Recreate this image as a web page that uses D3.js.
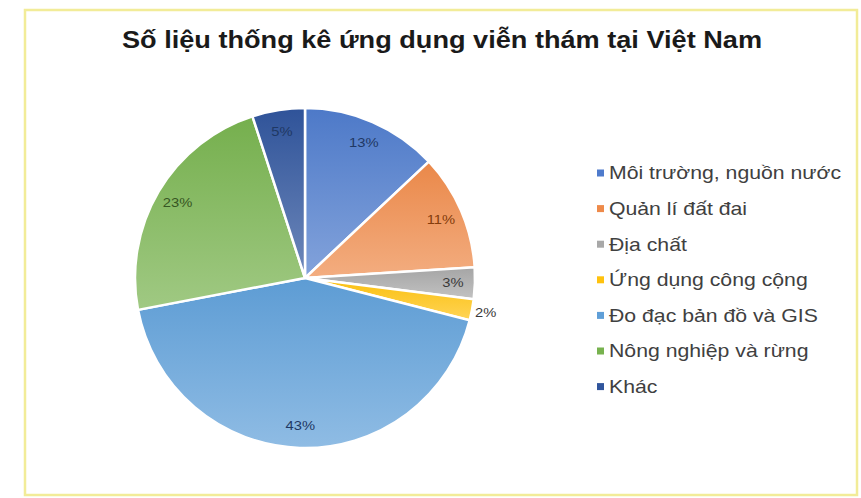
<!DOCTYPE html>
<html>
<head>
<meta charset="utf-8">
<script src="https://cdn.jsdelivr.net/npm/d3@7"></script>
<style>
  body { margin: 0; background: #fff; }
  svg { display: block; font-family: "Liberation Sans", Arial, sans-serif; }
</style>
</head>
<body>
<div id="chart"></div>
<script>
const width = 861,
  height = 498;

const categories = [
  "Môi trường, nguồn nước",
  "Quản lí đất đai",
  "Địa chất",
  "Ứng dụng công cộng",
  "Đo đạc bản đồ và GIS",
  "Nông nghiệp và rừng",
  "Khác"
];
const values = [13, 11, 3, 2, 43, 23, 5];
const colors = ["#4e7bcc", "#ee8a4a", "#a8a8a8", "#ffc20e", "#5f9fd8", "#77b24e", "#30559c"];
const labelColors = ["#1f3864", "#843c0c", "#3a3a3a", "#3a3a3a", "#1f3864", "#375623", "#1f3864"];
const title = "Số liệu thống kê ứng dụng viễn thám tại Việt Nam";

// the picture is stretched a bit wider than tall
const sx = 1.18;

const data = categories.map((c, i) => ({ name: c, value: values[i], i }));

const svg = d3.select("#chart")
  .append("svg")
  .attr("width", width)
  .attr("height", height);

// gradient per slice, darker on top, lighter below
const defs = svg.append("defs");
colors.forEach((c, i) => {
  const g = defs.append("linearGradient")
    .attr("id", "grad" + i)
    .attr("x1", 0).attr("y1", 0).attr("x2", 0).attr("y2", 1);
  g.append("stop").attr("offset", "0%").attr("stop-color", d3.color(c).darker(0.05));
  g.append("stop").attr("offset", "100%").attr("stop-color", d3.interpolateRgb(c, "#fff")(0.3));
});

// chart frame
svg.append("rect")
  .attr("x", 25).attr("y", 10)
  .attr("width", 832).attr("height", 485)
  .attr("fill", "#fff")
  .attr("stroke", "#f2ec98")
  .attr("stroke-width", 2.5);

svg.append("text")
  .attr("transform", `translate(442,47.5) scale(${sx},1)`)
  .attr("text-anchor", "middle")
  .attr("font-size", 23)
  .attr("font-weight", "bold")
  .attr("fill", "#1a1a1a")
  .text(title);

const cx = 305, cy = 278, r = 170;

const pie = d3.pie().sort(null).value(d => d.value);
const arc = d3.arc().innerRadius(0).outerRadius(r);
const arcs = pie(data);

const g = svg.append("g").attr("transform", `translate(${cx},${cy})`);

g.selectAll("path")
  .data(arcs)
  .join("path")
  .attr("d", arc)
  .attr("fill", d => `url(#grad${d.data.i})`)
  .attr("stroke", "#fff")
  .attr("stroke-width", 2.5);

const inner = d3.arc().innerRadius(148).outerRadius(148);
const outer = d3.arc().innerRadius(184).outerRadius(184);

g.selectAll("text")
  .data(arcs)
  .join("text")
  .attr("transform", d => `translate(${(d.data.value < 3 ? outer : inner).centroid(d)}) scale(${sx},1)`)
  .attr("text-anchor", "middle")
  .attr("dy", "0.35em")
  .attr("font-size", 12.5)
  .attr("fill", d => labelColors[d.data.i])
  .text(d => d.data.value + "%");

// legend
const legend = svg.append("g")
  .attr("transform", "translate(597,173)");

const row = legend.selectAll("g")
  .data(data)
  .join("g")
  .attr("transform", (d, i) => `translate(0,${i * 35.6})`);

row.append("rect")
  .attr("x", 0).attr("y", -3.5)
  .attr("width", 7).attr("height", 7)
  .attr("fill", d => colors[d.i]);

row.append("text")
  .attr("transform", `translate(12,0) scale(${sx},1)`)
  .attr("dy", "0.35em")
  .attr("font-size", 18)
  .attr("fill", "#404040")
  .text(d => d.name);
</script>
</body>
</html>
